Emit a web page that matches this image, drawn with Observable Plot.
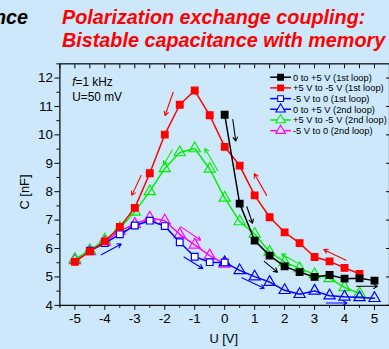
<!DOCTYPE html>
<html><head><meta charset="utf-8">
<script src="https://cdn.jsdelivr.net/npm/d3@7"></script>
<script src="https://cdn.jsdelivr.net/npm/@observablehq/plot@0.6"></script>
<style>
html,body{margin:0;padding:0;background:#cce8fa;overflow:hidden;width:389px;height:349px;}
#chart{position:absolute;left:0;top:0;}
.ttl{position:absolute;font-family:Arial,"Liberation Sans",sans-serif;font-weight:bold;font-style:italic;font-size:19.8px;white-space:nowrap;line-height:23px;}
</style></head><body>
<div class="ttl" style="left:62px;top:6px;color:#ff0000">Polarization exchange coupling:<br>Bistable capacitance with memory</div>
<div class="ttl" style="right:361px;top:6px;color:#000">Capacitance</div>
<div id="chart"></div>
<script>
// ---- data ----
const seriesNames = ["0 to +5 V (1st loop)","+5 V to -5 V (1st loop)","-5 V to 0 (1st loop)","0 to +5 V (2nd loop)","+5 V to -5 V (2nd loop)","-5 V to 0 (2nd loop)"];
const U_black = [0,0.5,1,1.5,2,2.5,3,3.5,4,4.5,5];
const C_black = [10.71,7.58,6.28,5.75,5.37,5.17,5.0,5.07,4.94,4.95,4.87];
const U_red = [4.5,4,3.5,3,2.5,2,1.5,1,0.5,0,-0.5,-1,-1.5,-2,-2.5,-3,-3.5,-4,-4.5,-5];
const C_red = [5.11,5.32,5.55,5.70,6.19,6.57,7.10,7.87,8.92,9.58,10.69,11.56,11.06,10.01,8.65,7.43,6.76,6.25,5.90,5.53];
const U_blueSq = [-4.5,-4,-3.5,-3,-2.5,-2,-1.5,-1,-0.5,0];
const C_blueSq = [5.92,6.19,6.50,6.81,6.98,6.79,6.22,5.71,5.52,5.51];
const U_blueTri = [0,0.5,1,1.5,2,2.5,3,3.5,4,4.5,5];
const C_blueTri = [5.51,5.23,5.01,4.82,4.53,4.39,4.51,4.34,4.30,4.28,4.25];
const U_green = [4.5,4,3.5,3,2.5,2,1.5,1,0.5,0,-0.5,-1,-1.5,-2,-2.5,-3,-3.5,-4,-4.5,-5];
const C_green = [4.42,4.63,4.95,5.09,5.30,5.52,5.88,6.51,6.95,7.78,8.80,9.52,9.38,8.82,8.01,7.29,6.71,6.31,5.93,5.63];
const U_magenta = [-5,-4.5,-4,-3.5,-3,-2.5,-2,-1.5,-1,-0.5,0];
const C_magenta = [5.58,5.90,6.22,6.62,6.86,7.08,6.98,6.50,6.13,5.75,5.46];

// direction arrows (data coords): x1,y1 -> x2,y2
const arrowColor = ["#ff0000","#ff0000","#ff0000","#ff0000","#000000","#000000","#000000","#000000","#00f000","#00f000","#00f000","#ff00ff","#0000ff","#0000ff","#0000ff","#0000ff"];
const arrowX1 = [-2.79,-1.72,1.40,4.05, 0.27,0.74,1.32,4.40, -0.23,-1.75,2.48, -1.47, -4.12,-1.36,0.57,3.39];
const arrowY1 = [8.57,11.50,7.87,5.59, 10.54,7.47,5.55,4.67, 8.74,9.47,5.46, 6.77, 5.78,5.70,4.97,4.08];
const arrowX2 = [-3.10,-1.99,0.99,3.31, 0.37,0.93,1.76,5.10, -0.66,-2.04,1.90, -0.80, -3.45,-0.73,1.32,4.08];
const arrowY2 = [7.87,10.68,8.63,5.96, 9.78,6.89,5.17,4.67, 9.52,8.94,5.81, 6.29, 6.16,5.30,4.60,4.08];

const xMajor = [-5,-4,-3,-2,-1,0,1,2,3,4,5];
const xMinor = [-5.5,-4.5,-3.5,-2.5,-1.5,-0.5,0.5,1.5,2.5,3.5,4.5,5.5];
const yMajor = [4,5,6,7,8,9,10,11,12];
const yMinor = [4.5,5.5,6.5,7.5,8.5,9.5,10.5,11.5,12.5];

// ---- styles ----
const styles = [
  {color:"#000000", symbol:"square", fill:"#000000"},
  {color:"#ff0000", symbol:"square", fill:"#ff0000"},
  {color:"#0000ff", symbol:"square", fill:"#ffffff"},
  {color:"#0000ff", symbol:"triangle", fill:"none"},
  {color:"#00f000", symbol:"triangle", fill:"none"},
  {color:"#ff00ff", symbol:"triangle", fill:"none"}
];
const seriesU = [U_black,U_red,U_blueSq,U_blueTri,U_green,U_magenta];
const seriesC = [C_black,C_red,C_blueSq,C_blueTri,C_green,C_magenta];
const drawOrder = [5,4,3,2,1,0];

const arrows = arrowX1.map((x,i)=>({x1:x,y1:arrowY1[i],x2:arrowX2[i],y2:arrowY2[i],c:arrowColor[i]}));

const seriesMarks = [];
for (const k of drawOrder) {
  const d = seriesU[k].map((u,i)=>({U:u, C:seriesC[k][i]}));
  const st = styles[k];
  seriesMarks.push(Plot.line(d,{x:"U",y:"C",stroke:st.color,strokeWidth:1.5}));
  seriesMarks.push(Plot.dot(d,{x:"U",y:"C",symbol:()=>st.symbol,stroke:st.color,fill:st.fill,r:st.symbol==="square"?3.8:4.2,strokeWidth:1.2}));
}

const plot = Plot.plot({
  width:393, height:349,
  marginLeft:60, marginRight:0, marginTop:64, marginBottom:41,
  style:{background:"transparent", fontFamily:"Arial, 'Liberation Sans', sans-serif", fontSize:"13px", color:"black", overflow:"visible"},
  x:{domain:[-5.5,5.5]},
  y:{domain:[4,12.5]},
  symbol:{type:"identity"},
  marks:[
    Plot.axisX({ticks:xMajor, tickSize:5, tickPadding:3, tickFormat:d=>String(d), label:null, fontSize:13.5}),
    Plot.axisX({ticks:xMinor, tickSize:3, tickFormat:()=>"", label:null}),
    Plot.axisX({anchor:"top", ticks:xMajor.concat(xMinor), tickSize:-4, tickFormat:()=>"", label:null}),
    Plot.axisY({ticks:yMajor, tickSize:5, tickPadding:2, tickFormat:d=>String(d), label:null, fontSize:13.5}),
    Plot.axisY({ticks:yMinor, tickSize:3, tickFormat:()=>"", label:null}),
    Plot.axisY({anchor:"right", ticks:yMajor, tickSize:-4, tickFormat:()=>"", label:null}),
    ...seriesMarks,
    Plot.arrow(arrows,{x1:"x1",y1:"y1",x2:"x2",y2:"y2",stroke:"c",headLength:6,strokeWidth:1.1}),
    Plot.frame({stroke:"black", strokeWidth:1.2})
  ]
});
document.getElementById("chart").appendChild(plot);

// ---- annotations & legend ----
const svg = d3.select(plot);
const font = "Arial, 'Liberation Sans', sans-serif";
const ann = svg.append("g").attr("font-family",font).attr("font-size",12).attr("fill","black").attr("text-anchor","start");
const t1 = ann.append("text").attr("x",73).attr("y",87);
t1.append("tspan").attr("font-style","italic").text("f");
t1.append("tspan").text("=1 kHz");
ann.append("text").attr("x",73).attr("y",102).text("U=50 mV");
ann.append("text").attr("transform","translate(29,194) rotate(-90)").attr("text-anchor","middle").attr("font-size",13).text("C [nF]");
ann.append("text").attr("x",226).attr("y",347).attr("text-anchor","middle").attr("font-size",13).text("U [V]");

const leg = svg.append("g").attr("font-family",font).attr("font-size",9.4).attr("text-anchor","start");
seriesNames.forEach((name,i)=>{
  const y = 78 + i*10.8;
  const st = styles[i];
  leg.append("line").attr("x1",273).attr("x2",294).attr("y1",y).attr("y2",y).attr("stroke",st.color).attr("stroke-width",1.5);
  const sym = st.symbol==="square" ? d3.symbolSquare : d3.symbolTriangle;
  leg.append("path").attr("d",d3.symbol(sym, st.symbol==="square"?34:40)()).attr("transform",`translate(283.5,${y})`)
    .attr("fill",st.fill==="none"?"#cce8fa":st.fill).attr("stroke",st.color).attr("stroke-width",1.1);
  leg.append("text").attr("x",296).attr("y",y+3.4).text(name);
});
</script>
</body></html>
